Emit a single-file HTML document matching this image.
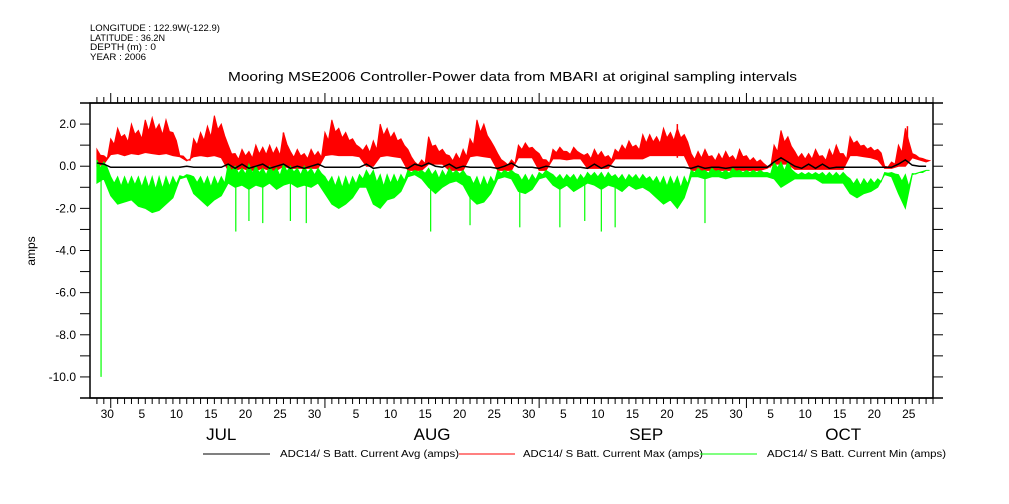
<!DOCTYPE html>
<html><head><meta charset="utf-8"><style>
html,body{margin:0;padding:0;background:#fff;}
svg{display:block;font-family:"Liberation Sans",sans-serif;}
</style></head><body>
<svg id="chart" width="1009" height="504" viewBox="0 0 1009 504">
<g font-size="9" fill="#000">
<text x="90" y="31" textLength="130" lengthAdjust="spacingAndGlyphs">LONGITUDE : 122.9W(-122.9)</text>
<text x="90" y="41" textLength="75" lengthAdjust="spacingAndGlyphs">LATITUDE : 36.2N</text>
<text x="90" y="50" textLength="66" lengthAdjust="spacingAndGlyphs">DEPTH (m) : 0</text>
<text x="90" y="60" textLength="56" lengthAdjust="spacingAndGlyphs">YEAR : 2006</text>
</g>
<text x="228" y="81" textLength="569" lengthAdjust="spacingAndGlyphs" font-size="13">Mooring MSE2006 Controller-Power data from MBARI at original sampling intervals</text>
<text transform="translate(35,251) rotate(-90)" text-anchor="middle" font-size="12">amps</text>
<g id="axes"></g>
<g id="series"></g>
<g font-size="10">
<line x1="203" y1="454" x2="270" y2="454" stroke="#000"/>
<text x="280" y="457" textLength="179" lengthAdjust="spacingAndGlyphs">ADC14/ S Batt. Current Avg (amps)</text>
<line x1="459" y1="454" x2="515" y2="454" stroke="#f00"/>
<text x="523" y="457" textLength="180" lengthAdjust="spacingAndGlyphs">ADC14/ S Batt. Current Max (amps)</text>
<line x1="700" y1="454" x2="757" y2="454" stroke="#0f0"/>
<text x="767" y="457" textLength="179" lengthAdjust="spacingAndGlyphs">ADC14/ S Batt. Current Min (amps)</text>
</g>
</svg>
<script>
// day index 0 = Jun 28 2006
const maxHi=[null,0.8,0.5,1.3,1.8,1.5,2.0,1.7,2.2,2.3,2.0,2.2,1.6,0.5,0.3,1.3,1.6,1.9,2.4,2.0,1.0,0.6,0.8,0.7,1.0,0.9,1.0,0.9,1.6,0.7,0.8,0.6,0.8,0.7,1.6,2.2,1.8,1.6,1.3,0.9,1.0,1.2,2.0,1.8,1.6,1.3,0.8,0.2,0.3,1.4,1.0,0.8,0.5,0.6,0.8,1.3,2.2,2.0,1.2,0.6,0.2,0.3,1.0,1.1,0.9,0.6,0.3,0.8,0.9,0.7,0.9,0.6,0.6,0.8,0.7,0.5,0.8,1.0,1.2,1.0,1.5,1.5,1.4,1.8,1.6,1.8,1.5,0.6,0.7,0.8,0.5,0.6,0.7,0.5,0.8,0.5,0.4,0.3,0.0,1.0,1.7,1.4,0.7,0.6,0.6,0.8,0.5,0.8,1.0,0.6,1.4,1.2,1.0,0.9,0.8,0.0,0.2,1.0,1.8,0.6,0.4,0.3];
const maxLo=[null,0.0,0.1,0.55,0.6,0.5,0.6,0.55,0.65,0.6,0.55,0.6,0.5,0.45,0.25,0.45,0.5,0.45,0.5,0.4,-0.2,-0.2,-0.1,-0.2,-0.2,-0.1,-0.2,-0.2,0.0,-0.1,-0.1,-0.1,-0.1,-0.1,0.5,0.55,0.5,0.5,0.5,0.45,0.0,0.0,0.45,0.5,0.45,0.4,-0.2,-0.2,-0.2,0.1,0.1,0.1,-0.2,-0.2,-0.2,0.45,0.5,0.45,0.4,-0.2,-0.2,-0.2,0.4,0.4,0.4,-0.2,-0.2,0.35,0.35,0.3,0.35,0.35,-0.1,-0.1,-0.1,-0.1,0.35,0.35,0.35,0.35,0.35,0.5,0.5,0.5,0.5,0.5,0.5,-0.2,-0.2,-0.2,-0.2,-0.2,-0.2,-0.2,-0.2,-0.2,-0.2,-0.2,-0.1,0.1,0.1,0.1,-0.15,-0.15,-0.15,-0.15,-0.15,-0.15,-0.15,-0.15,0.5,0.5,0.45,0.4,0.3,-0.1,-0.1,0.0,0.0,0.4,0.3,0.2];
const minHi=[null,0.3,0.2,-0.5,-0.5,-0.5,-0.5,-0.5,-0.5,-0.5,-0.5,-0.5,-0.5,-0.45,-0.4,-0.5,-0.5,-0.5,-0.5,-0.5,0.1,0.0,-0.1,0.1,0.0,-0.1,0.0,-0.1,0.1,0.0,-0.1,0.0,-0.1,-0.1,-0.5,-0.5,-0.5,-0.5,-0.5,-0.4,-0.2,-0.2,-0.4,-0.4,-0.4,-0.4,-0.2,-0.2,-0.2,-0.1,-0.2,-0.2,-0.1,-0.2,-0.2,-0.5,-0.5,-0.5,-0.5,-0.2,-0.2,-0.2,-0.4,-0.4,-0.4,-0.3,-0.2,-0.4,-0.4,-0.4,-0.4,-0.4,-0.3,-0.3,-0.3,-0.3,-0.4,-0.4,-0.4,-0.4,-0.4,-0.5,-0.5,-0.5,-0.5,-0.5,-0.5,-0.2,-0.1,-0.2,-0.1,-0.2,-0.2,-0.1,-0.2,-0.2,-0.2,-0.2,-0.3,0.2,0.2,0.2,-0.3,-0.3,-0.3,-0.3,-0.3,-0.3,-0.3,-0.3,-0.6,-0.6,-0.6,-0.6,-0.6,-0.3,-0.3,-0.4,-0.4,-0.35,-0.3,-0.2];
const minLo=[null,-0.8,-0.6,-1.4,-1.8,-1.7,-1.6,-1.9,-2.0,-2.2,-2.1,-1.8,-1.5,-0.6,-0.5,-1.3,-1.6,-1.9,-1.6,-1.4,-0.8,-1.0,-0.9,-1.1,-0.9,-1.0,-0.8,-1.1,-0.9,-0.8,-1.0,-0.9,-1.0,-0.8,-1.3,-1.8,-2.0,-1.8,-1.5,-1.0,-1.0,-1.8,-2.0,-1.6,-1.5,-1.2,-0.5,-0.4,-0.6,-1.0,-1.3,-1.0,-0.8,-0.7,-0.9,-1.5,-1.8,-1.7,-1.3,-0.6,-0.5,-0.6,-1.2,-1.3,-1.1,-0.6,-0.5,-0.9,-1.1,-0.9,-1.2,-1.0,-0.8,-0.9,-1.1,-0.9,-1.0,-1.2,-0.9,-1.1,-1.0,-1.2,-1.5,-1.8,-1.6,-2.0,-1.5,-0.5,-0.5,-0.6,-0.5,-0.5,-0.6,-0.5,-0.5,-0.5,-0.5,-0.5,-0.5,-0.6,-1.0,-0.8,-0.6,-0.6,-0.6,-0.6,-0.8,-0.8,-0.8,-0.8,-1.3,-1.5,-1.3,-1.2,-1.0,-0.4,-0.5,-1.3,-2.0,-0.4,-0.3,-0.2];
const avgVals=[null,0.15,0.1,-0.05,-0.05,-0.05,-0.05,-0.05,-0.05,-0.05,-0.05,-0.05,-0.05,-0.05,0.0,-0.05,-0.05,-0.05,-0.05,-0.05,0.1,-0.1,0.1,-0.1,0.0,0.1,-0.1,0.0,0.1,-0.1,0.0,-0.1,0.0,0.1,-0.05,-0.05,-0.05,-0.05,-0.05,-0.05,0.1,-0.1,-0.05,-0.05,-0.05,-0.05,-0.1,0.1,0.0,0.15,0.0,-0.05,0.1,-0.1,0.0,-0.05,-0.05,-0.05,-0.05,-0.1,0.0,0.15,-0.05,-0.05,-0.05,-0.1,0.0,-0.05,-0.05,-0.05,-0.05,-0.05,-0.1,0.1,-0.1,0.05,-0.05,-0.05,-0.05,-0.05,-0.05,-0.05,-0.05,-0.05,-0.05,-0.05,-0.05,-0.1,0.0,-0.1,-0.05,-0.05,-0.1,-0.05,-0.05,-0.05,-0.05,-0.05,-0.05,0.2,0.4,0.2,0.0,-0.1,0.1,-0.1,0.1,-0.1,-0.05,-0.05,-0.05,-0.05,-0.05,-0.05,-0.05,-0.05,-0.05,0.1,0.3,0.05,0.0,0.0];
const minSpikeDays=[1.6,21.1,23.0,25.0,29.0,31.3,49.3,55.0,62.2,68.0,71.6,74.0,76.0,89.0];
const minSpikeVals=[-10.0,-3.1,-2.6,-2.7,-2.6,-2.7,-3.1,-2.8,-2.9,-2.9,-2.6,-3.1,-2.9,-2.7];
const maxSpikeDays=[28.0,85.0,118.3];
const maxSpikeVals=[1.6,2.0,1.9];
const yTickVals=[2,0,-2,-4,-6,-8,-10];
const yTickLabels=["2.0","0.0","-2.0","-4.0","-6.0","-8.0","-10.0"];
const dayLabelDays=[2,7,12,17,22,27,32,38,43,48,53,58,63,68,73,78,83,88,93,98,103,108,113,118];
const dayLabels=["30","5","10","15","20","25","30","5","10","15","20","25","30","5","10","15","20","25","30","5","10","15","20","25"];
const monthDays=[3,34,65,95];
const monthNames=["JUL","AUG","SEP","OCT"];
const monthLabelDays=[19,49.5,80.5,109];

const L=90,R=933,T=103,B=398,D0=0,D1=122,V0=-11,V1=3;
const xs=d=>L+(d-D0)/(D1-D0)*(R-L);
const ys=v=>B-(v-V0)/(V1-V0)*(B-T);
const NS="http://www.w3.org/2000/svg";
function mk(tag,attrs,parent){const e=document.createElementNS(NS,tag);for(const k in attrs)e.setAttribute(k,attrs[k]);parent.appendChild(e);return e;}
const ax=document.getElementById('axes'),se=document.getElementById('series');

let e;
e=mk('rect',{x:L,y:T,width:R-L,height:B-T,fill:'none',stroke:'#000','stroke-width':1.5},ax);


e=mk('line',{x1:80,y1:T,x2:943,y2:T,stroke:'#000','stroke-width':1.5},ax);


e=mk('line',{x1:80,y1:B,x2:943,y2:B,stroke:'#000','stroke-width':1.5},ax);


for(let v=-11;v<=3;v++){
  const y=ys(v);
  e=mk('line',{x1:80,y1:y,x2:L,y2:y,stroke:'#000'},ax);
  
  
  e=mk('line',{x1:R,y1:y,x2:943,y2:y,stroke:'#000'},ax);
  
  
}
yTickVals.forEach((v,i)=>{
  e=mk('text',{x:76,y:ys(v)+4,'text-anchor':'end','font-size':12},ax);
  e.textContent=yTickLabels[i];
  
  
});
for(let d=1;d<=D1;d++){
  const x=xs(d);const major=monthDays.includes(d);
  e=mk('line',{x1:x,y1:B,x2:x,y2:B+(major?10:6),stroke:'#000'},ax);
  
  
  e=mk('line',{x1:x,y1:T,x2:x,y2:T-(major?10:6),stroke:'#000'},ax);
  
  
}
dayLabelDays.forEach((d,i)=>{
  e=mk('text',{x:xs(d+0.5),y:418,'text-anchor':'middle','font-size':12},ax);
  e.textContent=dayLabels[i];
  
  
});
monthLabelDays.forEach((d,i)=>{
  e=mk('text',{x:xs(d),y:440,'text-anchor':'middle','font-size':17},ax);
  e.textContent=monthNames[i];
  
  
});

function band(hi,lo,color,name){
  const top=[],bot=[];
  for(let d=0;d<hi.length;d++){ if(hi[d]==null)continue;
    top.push(xs(d)+','+ys(hi[d])); top.push(xs(d+0.5)+','+ys((hi[d]+lo[d])/2+0.15*(hi[d]-lo[d])));
    bot.push(xs(d)+','+ys(lo[d]));
  }
  e=mk('polygon',{points:top.concat(bot.reverse()).join(' '),fill:color,stroke:color,'stroke-width':1},se);
  
  
}
band(maxHi,maxLo,'#f00','max-series');
band(minHi,minLo,'#0f0','min-series');
maxSpikeDays.forEach((d,i)=>{
  e=mk('line',{x1:xs(d),y1:ys(0.4),x2:xs(d),y2:ys(maxSpikeVals[i]),stroke:'#f00','stroke-width':1.5},se);
  
  
});
minSpikeDays.forEach((d,i)=>{
  e=mk('line',{x1:xs(d),y1:ys(-0.5),x2:xs(d),y2:ys(minSpikeVals[i]),stroke:'#0f0','stroke-width':1.2},se);
  
  
});
const ap=[];avgVals.forEach((v,d)=>{if(v!=null)ap.push(xs(d)+','+ys(v));});
e=mk('polyline',{points:ap.join(' '),fill:'none',stroke:'#000','stroke-width':1.5},se);


</script>
</body></html>
